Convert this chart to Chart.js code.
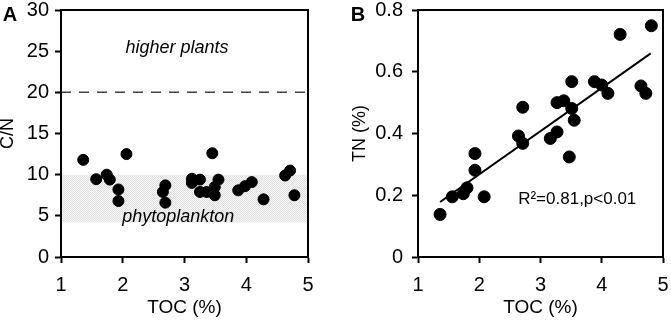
<!DOCTYPE html>
<html>
<head>
<meta charset="utf-8">
<script src="https://cdn.jsdelivr.net/npm/chart.js@4.4.0/dist/chart.umd.min.js"></script>
<style>
  body { margin: 0; background: #fff; }
  canvas { position: absolute; top: 0; }
</style>
</head>
<body>
<canvas id="chartA" width="335" height="321" style="left:0"></canvas>
<canvas id="chartB" width="336" height="321" style="left:335px"></canvas>
<script>
// panel A: C/N against TOC
var tocA = [1.36, 1.57, 1.74, 1.79, 1.93, 1.93, 2.06, 2.65, 2.69, 2.69, 3.12, 3.12, 3.25,
            3.25, 3.36, 3.45, 3.49, 3.49, 3.55, 3.87, 3.98, 4.09, 4.28, 4.63, 4.71, 4.78];
var cnA  = [11.8, 9.45, 10.0, 9.4, 8.2, 6.8, 12.5, 7.9, 8.7, 6.6, 9.5, 9.0, 9.4,
            7.9, 7.9, 12.6, 8.5, 7.5, 9.4, 8.1, 8.6, 9.1, 7.0, 9.9, 10.5, 7.5];
var phytoBand = [4.2, 10];    // C/N range of phytoplankton
var plantLimit = 20;          // higher plants above this

// panel B: TN against TOC
var tocB = [1.36, 1.56, 1.74, 1.80, 1.93, 1.93, 2.08, 2.64, 2.71, 2.71, 3.16, 3.27, 3.27,
            3.38, 3.47, 3.51, 3.51, 3.55, 3.88, 4.00, 4.10, 4.30, 4.64, 4.72, 4.81];
var tnB  = [0.138, 0.195, 0.205, 0.224, 0.281, 0.335, 0.195, 0.392, 0.368, 0.485, 0.384, 0.405, 0.500,
            0.506, 0.324, 0.568, 0.481, 0.443, 0.568, 0.557, 0.530, 0.721, 0.554, 0.530, 0.749];
var fitSlope = 0.140, fitIntercept = -0.0124;
var fitRange = [1.36, 4.80];

var xRange = [1, 5];
var cnRange = [0, 30];
var tnRange = [0, 0.8];

function pts(xs, ys) {
  return xs.map(function (x, i) { return { x: x, y: ys[i] }; });
}

// light dotted fill like the halftone band
function bandPattern() {
  var c = document.createElement('canvas');
  c.width = 2; c.height = 2;
  var g = c.getContext('2d');
  g.fillStyle = '#f7f7f7'; g.fillRect(0, 0, 2, 2);
  g.fillStyle = '#e0e0e0'; g.fillRect(0, 0, 1, 1); g.fillRect(1, 1, 1, 1);
  return g.createPattern(c, 'repeat');
}

var FONT = '"Liberation Sans", Arial, sans-serif';

var framePlugin = {
  id: 'frame',
  afterDraw: function (chart) {
    var ctx = chart.ctx, a = chart.chartArea;
    var o = chart.options.plugins.frame;
    ctx.save();
    ctx.strokeStyle = '#000';
    ctx.lineWidth = 2;
    ctx.strokeRect(a.left, a.top, a.right - a.left, a.bottom - a.top);
    ctx.fillStyle = '#000';
    ctx.textAlign = 'center';
    ctx.textBaseline = 'middle';
    ctx.font = 'bold 20px ' + FONT;
    ctx.fillText(o.letter, o.letterPos[0], o.letterPos[1]);
    (o.notes || []).forEach(function (n) {
      ctx.font = n.font;
      ctx.fillText(n.text, chart.scales.x.getPixelForValue(n.x), chart.scales.y.getPixelForValue(n.y));
    });
    // y axis title, rotated
    ctx.font = '18px ' + FONT;
    ctx.translate(o.yTitleX, (a.top + a.bottom) / 2);
    ctx.rotate(-Math.PI / 2);
    ctx.fillText(o.yTitle, 0, 0);
    ctx.restore();
  }
};

function axis(min, max, step, fit, isY, tickPad, title) {
  return {
    type: 'linear', min: min, max: max,
    ticks: { stepSize: step, color: '#000', padding: tickPad, font: { family: FONT, size: 20, lineHeight: 1.0 } },
    grid: { drawOnChartArea: false, drawTicks: true, tickLength: 6, tickColor: '#000', tickWidth: 2 },
    border: { color: '#000', width: 2 },
    title: { display: !!title, text: title || '', color: '#000', padding: { top: 0, bottom: 2 },
             font: { family: FONT, size: 19, lineHeight: 1.2 } },
    afterFit: function (s) {
      if (isY) { s.width = fit; s.paddingTop = 0; s.paddingBottom = 0; }
      else { s.height = fit; s.paddingLeft = 0; s.paddingRight = 0; }
    }
  };
}

var base = {
  responsive: false,
  animation: false,
  events: [],
  plugins: { legend: { display: false }, tooltip: { enabled: false } }
};

new Chart(document.getElementById('chartA'), {
  type: 'scatter',
  data: {
    datasets: [
      { data: pts(tocA, cnA), backgroundColor: '#000', borderColor: '#000', pointRadius: 5.5, order: 1 },
      { data: pts(xRange, [plantLimit, plantLimit]), showLine: true, borderColor: '#444', borderWidth: 1.5,
        borderDash: [10, 8], pointRadius: 0, order: 2 },
      { data: pts(xRange, [phytoBand[1], phytoBand[1]]), showLine: true, borderWidth: 0, pointRadius: 0,
        fill: { value: phytoBand[0] }, backgroundColor: bandPattern(), order: 3 }
    ]
  },
  options: Object.assign({}, base, {
    layout: { padding: { top: 10, right: 27, left: 0, bottom: 0 } },
    scales: {
      x: axis(xRange[0], xRange[1], 1, 64, false, 12, 'TOC (%)'),
      y: axis(cnRange[0], cnRange[1], 5, 61, true, 6)
    },
    plugins: Object.assign({}, base.plugins, {
      frame: {
        letter: 'A', letterPos: [10, 15], yTitle: 'C/N', yTitleX: 8,
        notes: [
          { text: 'higher plants', x: 2.88, y: 25.4, font: 'italic 18px ' + FONT },
          { text: 'phytoplankton', x: 2.9, y: 4.8, font: 'italic 18px ' + FONT }
        ]
      }
    })
  }),
  plugins: [framePlugin]
});

new Chart(document.getElementById('chartB'), {
  type: 'scatter',
  data: {
    datasets: [
      { data: pts(tocB, tnB), backgroundColor: '#000', borderColor: '#000', pointRadius: 6, order: 2 },
      { data: pts(fitRange, fitRange.map(function (x) { return fitSlope * x + fitIntercept; })),
        showLine: true, borderColor: '#000', borderWidth: 2, pointRadius: 0, order: 1 }
    ]
  },
  options: Object.assign({}, base, {
    layout: { padding: { top: 10, right: 8, left: 0, bottom: 0 } },
    scales: {
      x: axis(xRange[0], xRange[1], 1, 64, false, 12, 'TOC (%)'),
      y: axis(tnRange[0], tnRange[1], 0.2, 83, true, 9)
    },
    plugins: Object.assign({}, base.plugins, {
      frame: {
        letter: 'B', letterPos: [23, 15], yTitle: 'TN (%)', yTitleX: 25,
        notes: [
          { text: 'R\u00b2=0.81,p<0.01', x: 3.6, y: 0.187, font: '17px ' + FONT }
        ]
      }
    })
  }),
  plugins: [framePlugin]
});
</script>
</body>
</html>
